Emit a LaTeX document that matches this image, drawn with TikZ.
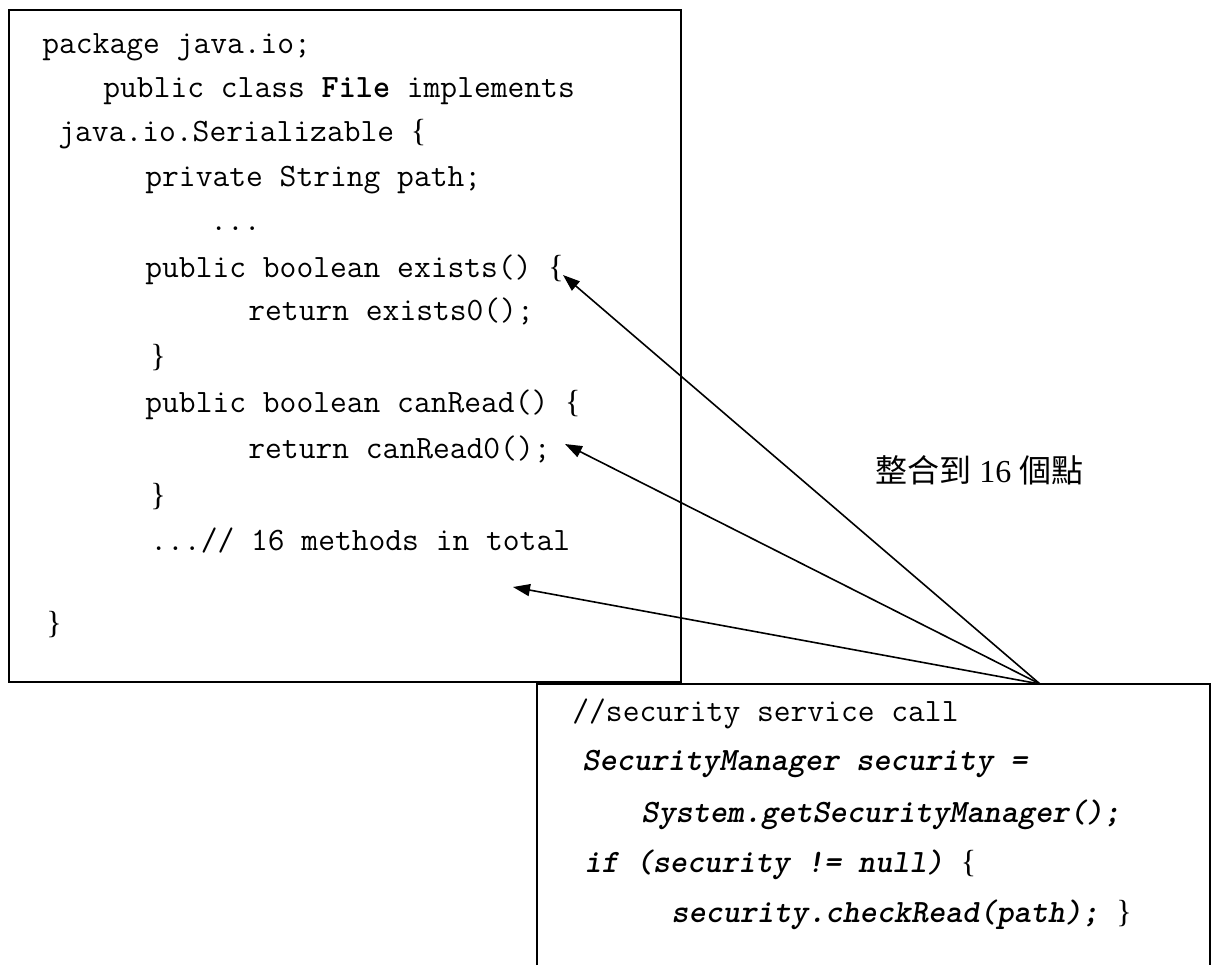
\documentclass[tikz,border=0pt]{standalone}
\usepackage{fontspec}
\setmainfont{Liberation Serif}
\newfontfamily\cjk{Noto Sans CJK TC}
\usetikzlibrary{arrows.meta}

% serif braces as in the listing
\newcommand{\lbr}{{\rmfamily\mdseries\upshape\fontsize{16}{17}\selectfont\{}}
\newcommand{\rbr}{{\rmfamily\mdseries\upshape\fontsize{16}{17}\selectfont\}}}

\begin{document}
\begin{tikzpicture}[x=0.5pt, y=-0.5pt, >={Triangle[length=8.5pt,width=6pt]},
    code/.style={anchor=base west, inner sep=0pt, font=\ttfamily\fontsize{16.3}{17}\selectfont},
    sec/.style={code, font=\ttfamily\bfseries\itshape\fontsize{16.3}{17}\selectfont},
    box/.style={draw, line width=1pt},
    call/.style={->, line width=0.8pt}]
    \useasboundingbox (0,0) rectangle (1211,965);

    % Boxes
    \draw [box] (9,10) rectangle (681,682);
    \draw [box] (537,965) -- (537,684) -- (1210,684) -- (1210,965);

    % Nodes of class File
    \node [code] (pkg)      at (42,53)   {package java.io;};
    \node [code] (cls)      at (103,97)  {public class \textbf{File} implements};
    \node [code] (ser)      at (58,141)  {java.io.Serializable \lbr};
    \node [code] (fld)      at (145,186) {private String path;};
    \node [code] (dots)     at (210,230) {...};
    \node [code] (exists)   at (145,277) {public boolean exists() \lbr};
    \node [code] (retex)    at (248,320) {return exists0();};
    \node [code] (closeex)  at (150,366) {\rbr};
    \node [code] (canread)  at (145,412) {public boolean canRead() \lbr};
    \node [code] (retcr)    at (248,458) {return canRead0();};
    \node [code] (closecr)  at (150,505) {\rbr};
    \node [code] (more)     at (150,550) {...// 16 methods in total};
    \node [code] (closecls) at (46,633)  {\rbr};

    % Nodes of the security call
    \node [code] (secCmt)   at (572,721) {//security service call};
    \node [sec]  (secMgr)   at (582,770) {SecurityManager security =};
    \node [sec]  (secGet)   at (641,822) {System.getSecurityManager();};
    \node [sec]  (secIf)    at (584,872) {if (security != null) \lbr};
    \node [sec]  (secChk)   at (671,922) {security.checkRead(path); \rbr};

    % Note
    \node [anchor=base west, inner sep=0pt, font=\fontsize{16}{18}\selectfont] (note) at (875,482)
        {{\cjk 整合到} 16 {\cjk 個點}};

    % Paths
    \coordinate (src)      at (1040,684);
    \coordinate (toExists) at (563,275);
    \coordinate (toCanRd)  at (565,444);
    \coordinate (toMore)   at (513,587);
    \path [call] (src) edge (toExists);
    \path [call] (src) edge (toCanRd);
    \path [call] (src) edge (toMore);
\end{tikzpicture}
\end{document}
